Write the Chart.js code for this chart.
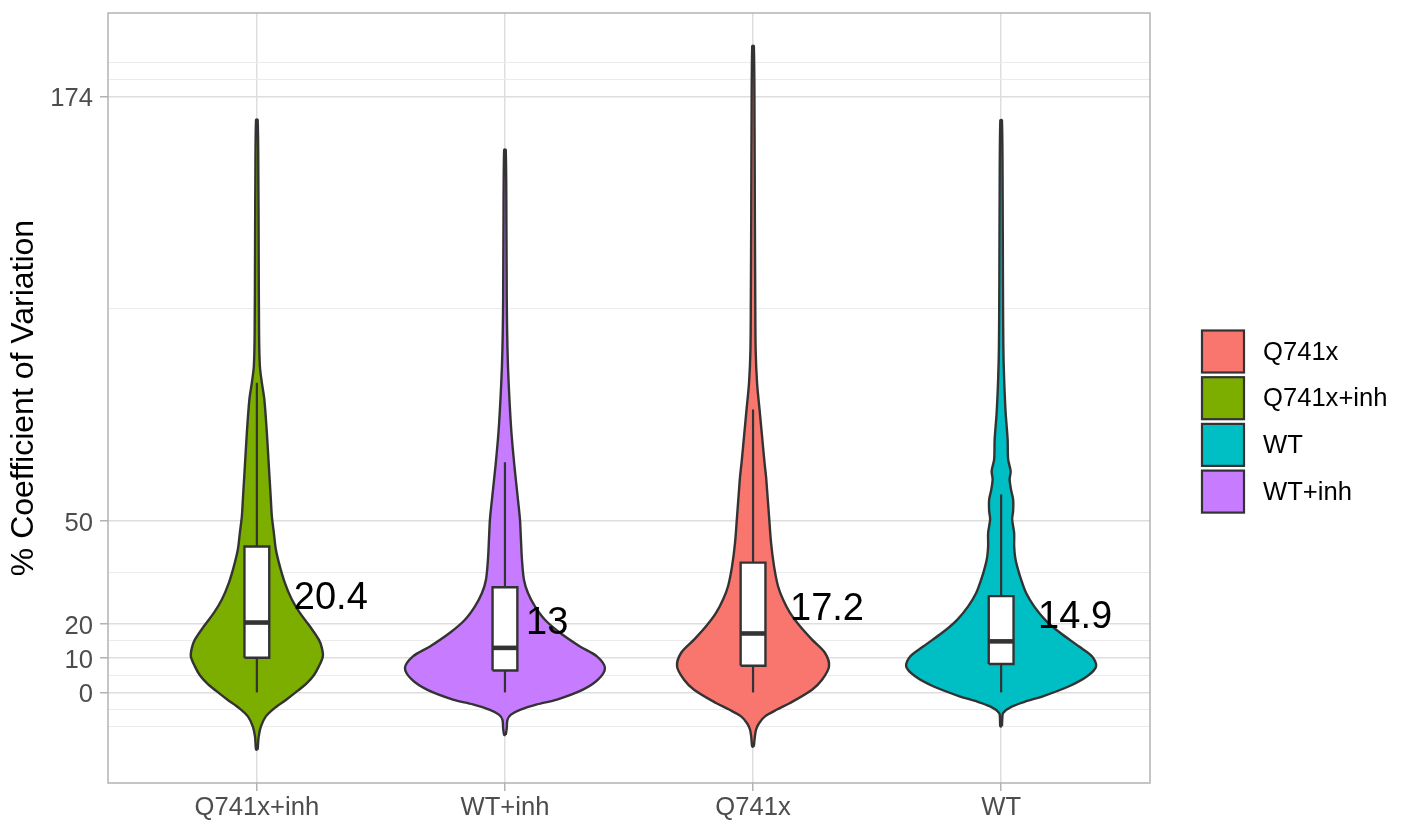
<!DOCTYPE html>
<html>
<head>
<meta charset="utf-8">
<title>% Coefficient of Variation</title>
<script src="https://cdn.jsdelivr.net/npm/chart.js@4.4.1/dist/chart.umd.min.js"></script>
<style>
  html, body { margin: 0; padding: 0; background: #ffffff; }
  canvas { display: block; }
</style>
</head>
<body>
<canvas id="cv" width="1405" height="822"></canvas>
<script>
// Groups in axis order, and their fill colours
const groups = ['Q741x+inh', 'WT+inh', 'Q741x', 'WT'];
const groupColors = ['#7CAE00', '#C77CFF', '#F8766D', '#00BFC4'];

// Box plot summaries (% CV)
const q1 = [10.1, 6.4, 7.8, 8.3];
const medians = [20.4, 13, 17.2, 14.9];
const q3 = [42.6, 30.7, 37.9, 28.1];
const whiskerLow = [0, 0, 0, 0];
const whiskerHigh = [90.4, 67.2, 82.6, 57.8];

// Violin density profiles: levels (% CV) and relative density (1 = widest violin)
const levelsQ741xInh = [-16.7, -13, -10, -7, -4.5, -2, 0.5, 2.7, 5, 7.6, 10.5, 13, 15.4, 19.3, 23.2, 27.1, 32, 36.8, 41.7, 46.6, 51.4, 56.3, 66, 75.8, 85.5, 90.4, 95.3, 105, 130, 150, 167.2];
const densityQ741xInh = [0.008, 0.018, 0.04, 0.09, 0.18, 0.30, 0.41, 0.50, 0.57, 0.62, 0.66, 0.65, 0.62, 0.53, 0.43, 0.35, 0.28, 0.23, 0.19, 0.17, 0.15, 0.14, 0.12, 0.10, 0.075, 0.05, 0.03, 0.022, 0.018, 0.015, 0.008];

const levelsWTInh = [-12.4, -10.5, -8, -6.5, -5.1, -3.5, -2.1, 0.8, 3.7, 7.1, 10.5, 13.4, 17.4, 21.2, 25.1, 29, 32.9, 38.8, 44.6, 50.5, 56.3, 66, 75.8, 85.5, 95.3, 105, 115, 135, 158.4];
const densityWTInh = [0.008, 0.018, 0.025, 0.06, 0.15, 0.32, 0.52, 0.78, 0.93, 1.00, 0.92, 0.75, 0.55, 0.40, 0.30, 0.23, 0.19, 0.17, 0.16, 0.15, 0.13, 0.095, 0.065, 0.045, 0.03, 0.022, 0.018, 0.015, 0.008];

const levelsQ741x = [-15.8, -13, -10.9, -9, -7, -5, -3.1, 0.8, 3.7, 7.6, 11.5, 15.4, 19.3, 23.2, 27.1, 31, 36.8, 43.7, 51.4, 59.2, 63, 67, 74.8, 82.6, 90.4, 100, 115, 140, 165, 188.7];
const densityQ741x = [0.008, 0.018, 0.03, 0.06, 0.12, 0.24, 0.37, 0.59, 0.69, 0.76, 0.72, 0.59, 0.47, 0.37, 0.30, 0.25, 0.21, 0.18, 0.16, 0.14, 0.13, 0.115, 0.09, 0.065, 0.04, 0.026, 0.022, 0.018, 0.015, 0.008];

const levelsWT = [-9.9, -7.5, -6, -4.1, -2.5, -1.2, 1.8, 4.7, 7.6, 10.5, 13.4, 17.4, 21.2, 25.1, 29, 32.9, 36.8, 39.5, 42.7, 46.6, 50.5, 53, 56.3, 59, 62.2, 64.6, 68, 73.8, 81.6, 91.4, 101, 120, 145, 167];
const densityWT = [0.008, 0.012, 0.02, 0.11, 0.26, 0.41, 0.68, 0.86, 0.95, 0.91, 0.78, 0.59, 0.44, 0.33, 0.25, 0.20, 0.16, 0.14, 0.13, 0.13, 0.11, 0.12, 0.12, 0.10, 0.085, 0.095, 0.07, 0.065, 0.045, 0.03, 0.022, 0.018, 0.015, 0.008];

// Y axis breaks
const majorTicks = [0, 10, 20, 50, 174];
const minorTicks = [-10, -5, 5, 15, 35, 112, 179, 184];

const profileLevels = [levelsQ741xInh, levelsWTInh, levelsQ741x, levelsWT];
const profileDensity = [densityQ741xInh, densityWTInh, densityQ741x, densityWT];

const FONT = '"Liberation Sans", Arial, Helvetica, sans-serif';
const OUTLINE = '#333333';
const maxHalfWidth = 0.403;   // half-width (x units) of the widest violin
const boxHalfWidth = 0.05;

function violinPath(i) {
  const c = i + 1;
  const lv = profileLevels[i], d = profileDensity[i];
  const right = lv.map((v, k) => ({ x: c + d[k] * maxHalfWidth, y: v }));
  const left = lv.map((v, k) => ({ x: c - d[k] * maxHalfWidth, y: v })).reverse();
  return right.concat(left, [right[0]]);
}

const datasets = [];
groups.forEach((g, i) => {
  const c = i + 1;
  datasets.push({
    label: g, data: violinPath(i), order: 3,
    fill: 'shape', backgroundColor: groupColors[i],
    borderColor: OUTLINE, borderWidth: 2.4, tension: 0.3,
    pointRadius: 0, borderJoinStyle: 'round'
  });
  datasets.push({
    label: g + ' whisker low', data: [{ x: c, y: whiskerLow[i] }, { x: c, y: q1[i] }], order: 2,
    borderColor: OUTLINE, borderWidth: 2.2, pointRadius: 0, fill: false
  });
  datasets.push({
    label: g + ' whisker high', data: [{ x: c, y: q3[i] }, { x: c, y: whiskerHigh[i] }], order: 2,
    borderColor: OUTLINE, borderWidth: 2.2, pointRadius: 0, fill: false
  });
  datasets.push({
    label: g + ' box',
    data: [
      { x: c - boxHalfWidth, y: q1[i] }, { x: c + boxHalfWidth, y: q1[i] },
      { x: c + boxHalfWidth, y: q3[i] }, { x: c - boxHalfWidth, y: q3[i] },
      { x: c - boxHalfWidth, y: q1[i] }
    ],
    order: 1, fill: 'shape', backgroundColor: '#ffffff',
    borderColor: OUTLINE, borderWidth: 2.4, pointRadius: 0, tension: 0, borderJoinStyle: 'miter'
  });
  datasets.push({
    label: g + ' median',
    data: [{ x: c - boxHalfWidth, y: medians[i] }, { x: c + boxHalfWidth, y: medians[i] }],
    order: 0, borderColor: OUTLINE, borderWidth: 4.6, pointRadius: 0, fill: false, borderCapStyle: 'butt'
  });
});

const isMajor = v => majorTicks.includes(v);

// Median value labels beside each box
const medianLabels = {
  id: 'medianLabels',
  afterDatasetsDraw(chart) {
    const { ctx, scales: { x, y } } = chart;
    const size = 38;
    ctx.save();
    ctx.font = size + 'px ' + FONT;
    ctx.fillStyle = '#000000';
    ctx.textAlign = 'left';
    ctx.textBaseline = 'alphabetic';
    medians.forEach((m, i) => {
      const txt = String(m);
      const w = ctx.measureText(txt).width;
      const px = x.getPixelForValue(i + 1) + 0.5 * w;
      const py = y.getPixelForValue(m) - 0.355 * size;
      ctx.fillText(txt, px, py);
    });
    ctx.restore();
  }
};

// Panel border drawn on top of everything inside the panel
const panelBorder = {
  id: 'panelBorder',
  afterDraw(chart) {
    const { ctx, chartArea: a } = chart;
    ctx.save();
    ctx.strokeStyle = '#B3B3B3';
    ctx.lineWidth = 1.5;
    ctx.strokeRect(a.left, a.top, a.right - a.left, a.bottom - a.top);
    ctx.restore();
  }
};

// Fill legend at the right of the panel
const fillLegend = {
  id: 'fillLegend',
  afterDraw(chart) {
    const { ctx, chartArea: a } = chart;
    const entries = groups.map((g, i) => ({ g, col: groupColors[i] }))
      .sort((p, q) => (p.g < q.g ? -1 : p.g > q.g ? 1 : 0));
    const keyX = a.right + 52, keySize = 42, step = 46.7;
    const top = 330.5;
    ctx.save();
    ctx.font = '25.6px ' + FONT;
    ctx.textAlign = 'left';
    ctx.textBaseline = 'middle';
    entries.forEach((e, k) => {
      const ky = top + k * step;
      ctx.fillStyle = e.col;
      ctx.fillRect(keyX, ky, keySize, keySize);
      ctx.strokeStyle = OUTLINE;
      ctx.lineWidth = 2.2;
      ctx.strokeRect(keyX, ky, keySize, keySize);
      ctx.fillStyle = '#000000';
      ctx.fillText(e.g, keyX + keySize + 19, ky + keySize / 2 + 1);
    });
    ctx.restore();
  }
};

new Chart(document.getElementById('cv'), {
  type: 'line',
  data: { datasets },
  options: {
    responsive: false,
    animation: false,
    devicePixelRatio: 1,
    events: [],
    layout: { padding: { left: 0, right: 255, top: 13, bottom: 0 } },
    plugins: { legend: { display: false }, tooltip: { enabled: false } },
    scales: {
      x: {
        type: 'linear', min: 0.4, max: 4.6,
        afterBuildTicks: s => { s.ticks = groups.map((g, i) => ({ value: i + 1 })); },
        afterFit: s => { s.height = 39; s.paddingLeft = 0; s.paddingRight = 0; },
        ticks: {
          autoSkip: false, maxRotation: 0, minRotation: 0, padding: 2,
          color: '#4D4D4D', font: { family: FONT, size: 25.6 },
          callback: v => groups[Math.round(v) - 1]
        },
        grid: { color: '#DEDEDE', lineWidth: 1.5, tickColor: '#B3B3B3', tickLength: 8, tickWidth: 1.5 },
        border: { display: false }
      },
      y: {
        type: 'linear', min: -26.45, max: 198.35,
        afterBuildTicks: s => {
          s.ticks = minorTicks.concat(majorTicks).sort((a, b) => a - b).map(v => ({ value: v }));
        },
        afterFit: s => { s.width = 108; s.paddingTop = 0; s.paddingBottom = 0; },
        ticks: {
          autoSkip: false, padding: 7, labelOffset: 3,
          color: '#4D4D4D', font: { family: FONT, size: 25.6 },
          callback: v => (isMajor(v) ? String(v) : '')
        },
        grid: {
          color: c => (c.tick && isMajor(c.tick.value) ? '#DEDEDE' : '#EBEBEB'),
          lineWidth: c => (c.tick && isMajor(c.tick.value) ? 1.5 : 1.1),
          tickColor: c => (c.tick && isMajor(c.tick.value) ? '#B3B3B3' : 'rgba(0,0,0,0)'),
          tickLength: 8, tickWidth: 1.5
        },
        border: { display: false },
        title: {
          display: true, text: '% Coefficient of Variation', color: '#000000',
          font: { family: FONT, size: 32 }, padding: { top: 5, bottom: 0 }
        }
      }
    }
  },
  plugins: [medianLabels, panelBorder, fillLegend]
});
</script>
</body>
</html>
